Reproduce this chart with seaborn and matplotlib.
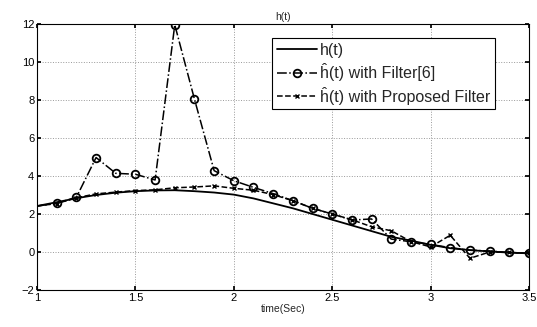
import numpy as np
import pandas as pd
import matplotlib
matplotlib.use("Agg")
import matplotlib.pyplot as plt
import seaborn as sns

# values
t = [1.0, 1.1, 1.2, 1.3, 1.4, 1.5, 1.6, 1.7, 1.8, 1.9, 2.0, 2.1, 2.2,
     2.3, 2.4, 2.5, 2.6, 2.7, 2.8, 2.9, 3.0, 3.1, 3.2, 3.3, 3.4, 3.5]
h_true = [2.42, 2.62, 2.83, 3.0, 3.12, 3.2, 3.24, 3.25, 3.2, 3.13, 3.02, 2.82, 2.56,
          2.3, 2.0, 1.7, 1.4, 1.1, 0.8, 0.6, 0.38, 0.2, 0.1, 0.03, -0.03, -0.07]
h_filter6 = [2.42, 2.56, 2.88, 4.97, 4.14, 4.09, 3.79, 11.95, 8.04, 4.28, 3.75, 3.4, 3.07,
             2.7, 2.3, 2.0, 1.68, 1.74, 0.68, 0.54, 0.4, 0.23, 0.1, 0.05, -0.02, -0.07]
h_proposed = [2.42, 2.55, 2.85, 3.06, 3.15, 3.23, 3.27, 3.38, 3.42, 3.48, 3.35, 3.25, 3.02,
              2.7, 2.3, 2.0, 1.7, 1.33, 1.12, 0.55, 0.27, 0.88, -0.33, 0.0, -0.02, -0.07]

df = pd.DataFrame({"t": t, "true": h_true, "f6": h_filter6, "prop": h_proposed})

sns.set_theme(style="white")
plt.rcParams['font.family'] = ['Liberation Sans', 'DejaVu Sans']

fig = plt.figure(figsize=(5.37, 3.27), dpi=100)
ax = fig.add_axes([0.069, 0.113, 0.916, 0.814])

sns.lineplot(data=df, x="t", y="true", ax=ax, color="black", linewidth=1.3, label="h(t)")
sns.lineplot(data=df, x="t", y="f6", ax=ax, color="black", linewidth=1.1, linestyle="-.",
             marker="o", markersize=5.5, markerfacecolor="none", markeredgecolor="black",
             markeredgewidth=1.3, markevery=slice(1, None), label="ĥ(t) with Filter[6]")
sns.lineplot(data=df, x="t", y="prop", ax=ax, color="black", linewidth=1.1, linestyle="--",
             marker="x", markersize=3.5, markeredgewidth=1.0, markeredgecolor="black",
             markevery=slice(1, None), label="ĥ(t) with Proposed Filter")

ax.set_xlim(1, 3.5)
ax.set_ylim(-2, 12)
ax.set_xticks([1, 1.5, 2, 2.5, 3, 3.5])
ax.set_xticklabels(["1", "1.5", "2", "2.5", "3", "3.5"])
ax.set_yticks(range(-2, 13, 2))
ax.tick_params(direction="in", length=3, labelsize=8, top=True, right=True,
               bottom=True, left=True, pad=2, colors="black")
ax.grid(True, color="#999999", linestyle=":", linewidth=0.7)
for s in ax.spines.values():
    s.set_color("black")
    s.set_linewidth(0.8)

ax.set_title("h(t)", fontsize=7.5, pad=3)
ax.set_xlabel("time(Sec)", fontsize=7.5, labelpad=1)
ax.set_ylabel("")

leg = ax.legend(loc="upper left", bbox_to_anchor=(0.478, 0.948), borderaxespad=0,
                fontsize=11.5, frameon=True, fancybox=False, edgecolor="black", framealpha=1,
                handlelength=2.5, borderpad=0.3, labelspacing=0.35, handletextpad=0.2)
leg.get_frame().set_linewidth(0.8)

fig.savefig("out.png", dpi=100)
